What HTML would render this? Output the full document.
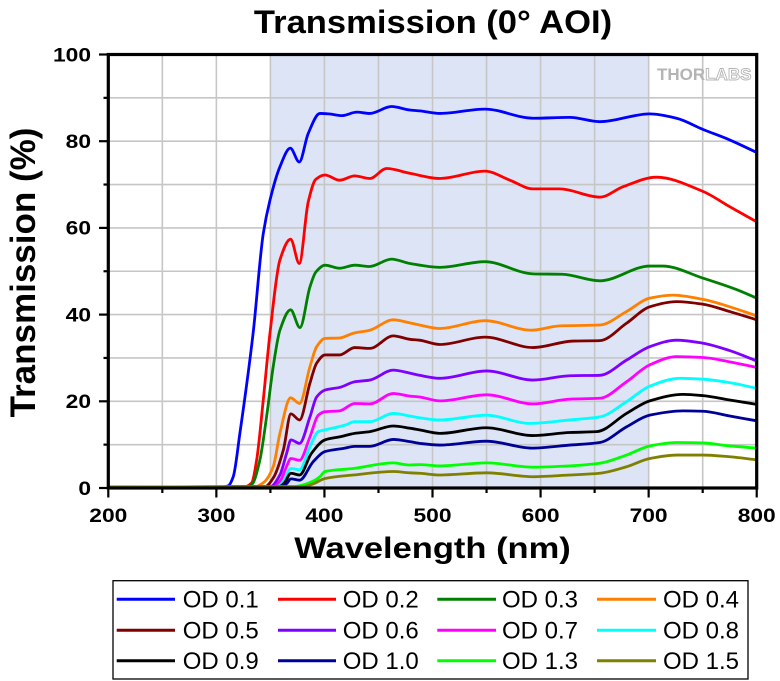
<!DOCTYPE html>
<html><head><meta charset="utf-8">
<style>
html,body{margin:0;padding:0;background:#fff;}
svg{display:block;}
text{font-family:"Liberation Sans",Arial,sans-serif;}
</style></head>
<body>
<svg id="s" width="780" height="681" viewBox="0 0 780 681" xmlns="http://www.w3.org/2000/svg">
<rect x="0" y="0" width="780" height="681" fill="#fff"/>
<defs><clipPath id="pc"><rect x="108.3" y="54.5" width="648.4" height="433.5"/></clipPath></defs>
<g id="bg"></g>
<g id="curves" clip-path="url(#pc)"></g>
<g id="axes"></g>
<text transform="translate(433,33) scale(1.08,1)" font-size="32" font-weight="bold" text-anchor="middle" fill="#000">Transmission (0° AOI)</text>
<text transform="translate(432.5,558) scale(1.15,1)" font-size="30" font-weight="bold" text-anchor="middle" fill="#000">Wavelength (nm)</text>
<text transform="translate(35,272.5) rotate(-90)" font-size="35" font-weight="bold" text-anchor="middle" fill="#000">Transmission (%)</text>
<text x="657" y="80" font-size="17" font-weight="bold" fill="#b4b4b4">THOR<tspan fill="#fff" stroke="#b4b4b4" stroke-width="0.9">LABS</tspan></text>
<g id="legend"></g>
</svg>
<script>
var NS="http://www.w3.org/2000/svg";
function X(l){return 108.3+(l-200)*1.0807;}
function Y(t){return 488-t*4.335;}
function el(tag,attrs,parent,txt){var e=document.createElementNS(NS,tag);for(var k in attrs)e.setAttribute(k,attrs[k]);if(txt!==undefined)e.textContent=txt;parent.appendChild(e);return e;}
var bg=document.getElementById('bg');
el('rect',{x:X(350),y:54.5,width:X(700)-X(350),height:433.5,fill:'#dce4f5'},bg);
for(var l=250;l<800;l+=50){el('line',{x1:X(l),y1:54.5,x2:X(l),y2:488,stroke:'#c6c6c6','stroke-width':1.6},bg);}
for(var t=10;t<100;t+=10){el('line',{x1:108.3,y1:Y(t),x2:756.7,y2:Y(t),stroke:'#c6c6c6','stroke-width':1.6},bg);}

var series=[
['OD 0.1','#0000ff',[[200,0.2],[305,0.2],[311,0.5],[315.6,2.6],[321.8,12.7],[334,35.7],[343.4,58.7],[349.6,66.4],[358.8,74.1],[368.4,78.4],[376.7,75.2],[385,81.8],[395.8,86.4],[404,86.3],[416,85.9],[430,86.7],[442,86.4],[462,88],[479,87.2],[488,87],[506.8,86.4],[548.5,87.4],[593,85.3],[627,85.5],[654.8,84.5],[701,86.3],[725.8,85.3],[750.4,82.7],[775,80.3],[800,77.4]]],
['OD 0.2','#ff0000',[[200,0.2],[326,0.3],[332.7,1.2],[337.3,6.5],[343.4,20.3],[349.6,35.7],[358.8,52.6],[368.7,57.4],[376.7,51.8],[385,66],[392,71.2],[400.5,72.2],[414,71],[428,72],[442,71.4],[457.5,73.7],[479,72.6],[506.8,71.4],[548.5,73.1],[571.6,71],[593,69],[617.7,69],[654.8,67.1],[676.4,69.5],[707.3,71.7],[750.4,68.4],[775,64.9],[800,61.4]]],
['OD 0.3','#008000',[[200,0.2],[330,0.3],[334,1.2],[340.3,6.5],[346.5,16.5],[352.6,28],[358.8,36.4],[368.7,41.1],[377.3,37],[386.6,46.4],[392,49.8],[400.5,51.4],[414,50.7],[428,51.4],[442,51.1],[462,52.8],[479,51.8],[506.8,50.9],[548.5,52.2],[593,49.4],[620,49.3],[654.8,47.8],[701,51.2],[713,51.2],[750.4,48.4],[781,45.8],[800,43.8]]],
['OD 0.4','#ff8000',[[200,0.2],[336,0.3],[343.4,1.2],[352.6,4.9],[358.8,12.6],[368.7,20.8],[377,19.5],[386.6,28],[392.8,32.6],[400.5,34.5],[414,34.6],[426.7,35.7],[442,36.4],[463.7,38.8],[479,38.1],[488,37.6],[506.8,36.8],[548.5,38.6],[591.6,36.4],[617.7,37.4],[654.8,37.6],[679.5,40.7],[701,43.8],[722.7,44.5],[750.4,43.5],[775,41.8],[800,39.7]]],
['OD 0.5','#800000',[[200,0.2],[345,0.3],[352.6,2.3],[362,8.8],[369,17.1],[377,15.7],[386.6,24.2],[392.8,28.8],[400.5,30.7],[414,30.7],[428,32.4],[442,32.2],[463.7,35.1],[479,34.3],[488,34.1],[506.8,33.1],[548.5,34.8],[593,32.4],[630,33.9],[654.8,34],[679.5,38],[701,41.8],[725.8,43],[750.4,42.4],[775,40.7],[800,38.8]]],
['OD 0.6','#8000ff',[[200,0.2],[350,0.3],[358.8,3],[365,8],[369,11.1],[377,10.3],[386.6,16.4],[392.8,21],[400.5,22.6],[414,23.2],[428,24.5],[442,24.9],[463.7,27.2],[479,26.5],[488,26],[506.8,25.3],[550,27],[593,24.9],[627,25.9],[654.8,26],[679.5,29.5],[701,32.6],[725.8,34.1],[750.4,33.4],[775,31.7],[800,29.3]]],
['OD 0.7','#ff00ff',[[200,0.2],[353,0.3],[360,2],[365,5],[369,6.8],[377,6.4],[386.6,11.8],[394.3,16.8],[400.5,17.6],[414,17.8],[428,19.5],[442,19.4],[463.7,21.8],[479,21.2],[488,21],[506.8,20.1],[550,21.5],[593,19.4],[627,20.5],[654.8,20.7],[679.5,24.5],[701,28.4],[725.8,30.3],[750.4,30.1],[775,29.1],[800,27.8]]],
['OD 0.8','#00ffff',[[200,0.2],[356,0.3],[362,1.5],[369,4.5],[377,4.2],[386.6,9.5],[394.3,13],[400.5,13.4],[419,14.5],[428,15.3],[442,15.3],[463.7,17.2],[479,16.6],[488,16.2],[506.8,15.7],[550,16.8],[590,14.9],[627,15.7],[654.8,16.4],[679.5,19.9],[701,23.5],[729,25.3],[750.4,25.1],[775,24.3],[800,23]]],
['OD 0.9','#000000',[[200,0.2],[358,0.3],[363,1.2],[369,3.4],[377,3],[388,8],[400.5,11.1],[414,11.8],[428,12.6],[442,13],[463.7,14.3],[479,13.8],[488,13.4],[506.8,12.6],[550,13.9],[592,12.1],[627,12.8],[652,13],[679.5,17.2],[701,20.1],[732,21.6],[750.4,21.3],[775,20.3],[800,19.3]]],
['OD 1.0','#000096',[[200,0.2],[360,0.3],[365,1],[369,2.1],[377,1.8],[389.7,6.1],[400.5,8.4],[419,9.2],[428,9.6],[442,9.6],[463.7,11.2],[479,10.7],[488,10.3],[506.8,9.9],[550,10.8],[592,9.2],[627,9.9],[654.8,10.5],[679.5,14.1],[701,16.8],[732,17.8],[750.4,17.7],[775,16.6],[800,15.5]]],
['OD 1.3','#00ff00',[[200,0.2],[372,0.3],[377,0.5],[389.7,1.6],[395.8,2.6],[400.5,3.8],[426.7,4.5],[463.7,5.8],[479,5.3],[488,5.4],[506.8,5.1],[550,5.8],[593,4.8],[627,5.1],[654.8,5.7],[679.5,7.6],[701,9.7],[725.8,10.5],[750.4,10.4],[775,9.7],[800,9.2]]],
['OD 1.5','#808000',[[200,0.2],[380,0.3],[390,1],[400.5,2.2],[426.7,3],[463.7,3.8],[479,3.5],[488,3.4],[506.8,3],[550,3.5],[593,2.6],[627,3],[654.8,3.4],[679.5,4.9],[701,6.8],[725.8,7.6],[750.4,7.6],[775,7.2],[800,6.5]]]
];

function mono(pts){
  var xs=pts.map(function(p){return X(p[0]);}),ys=pts.map(function(p){return Y(p[1]);});
  var n=xs.length,d=[],h=[],m=[];
  for(var k=0;k<n-1;k++){h[k]=xs[k+1]-xs[k];d[k]=(ys[k+1]-ys[k])/h[k];}
  m[0]=d[0];m[n-1]=d[n-2];
  for(k=1;k<n-1;k++){
    if(d[k-1]*d[k]<=0){m[k]=0;}
    else{var w1=2*h[k]+h[k-1],w2=h[k]+2*h[k-1];m[k]=(w1+w2)/(w1/d[k-1]+w2/d[k]);}
  }
  var s='M'+xs[0].toFixed(2)+','+ys[0].toFixed(2);
  for(k=0;k<n-1;k++){
    var c1x=xs[k]+h[k]/3,c1y=ys[k]+m[k]*h[k]/3,c2x=xs[k+1]-h[k]/3,c2y=ys[k+1]-m[k+1]*h[k]/3;
    s+='C'+c1x.toFixed(2)+','+c1y.toFixed(2)+' '+c2x.toFixed(2)+','+c2y.toFixed(2)+' '+xs[k+1].toFixed(2)+','+ys[k+1].toFixed(2);
  }
  return s;
}
var cg=document.getElementById('curves');
series.forEach(function(s){el('path',{d:mono(s[2]),fill:'none',stroke:s[1],'stroke-width':2.8,'stroke-linejoin':'round'},cg);});

var ax=document.getElementById('axes');
el('rect',{x:108.3,y:54.5,width:648.4,height:433.5,fill:'none',stroke:'#000','stroke-width':3.2},ax);
for(var t2=0;t2<=100;t2+=10){
  var maj=(t2%20===0);
  el('line',{x1:108.3,y1:Y(t2),x2:maj?99:103.5,y2:Y(t2),stroke:'#000','stroke-width':2.2},ax);
  if(maj){el('text',{transform:'translate(91,'+(Y(t2)+6.8).toFixed(1)+') scale(1.2,1)','font-size':19,'font-weight':'bold','text-anchor':'end',fill:'#000'},ax,String(t2));}
}
for(var l2=200;l2<=800;l2+=50){
  var maj2=(l2%100===0);
  el('line',{x1:X(l2),y1:488,x2:X(l2),y2:maj2?497.5:493,stroke:'#000','stroke-width':2.2},ax);
  if(maj2){el('text',{transform:'translate('+X(l2).toFixed(1)+',522) scale(1.2,1)','font-size':19,'font-weight':'bold','text-anchor':'middle',fill:'#000'},ax,String(l2));}
}

var lg=document.getElementById('legend');
el('rect',{x:113,y:580.7,width:635,height:98.3,fill:'#fff',stroke:'#000','stroke-width':1.3},lg);
var cols=[[116.7,175,182.7],[278,336,342.7],[437.3,496,502],[597,656,663]];
var rows=[599.3,630.3,660.7];
series.forEach(function(s,i){
  var r=Math.floor(i/4),c=i%4,cy=rows[r],cc=cols[c];
  el('line',{x1:cc[0],y1:cy,x2:cc[1],y2:cy,stroke:s[1],'stroke-width':3},lg);
  el('text',{x:cc[2],y:cy+8.2,'font-size':24,fill:'#000'},lg,s[0]);
});
</script>
</body></html>
